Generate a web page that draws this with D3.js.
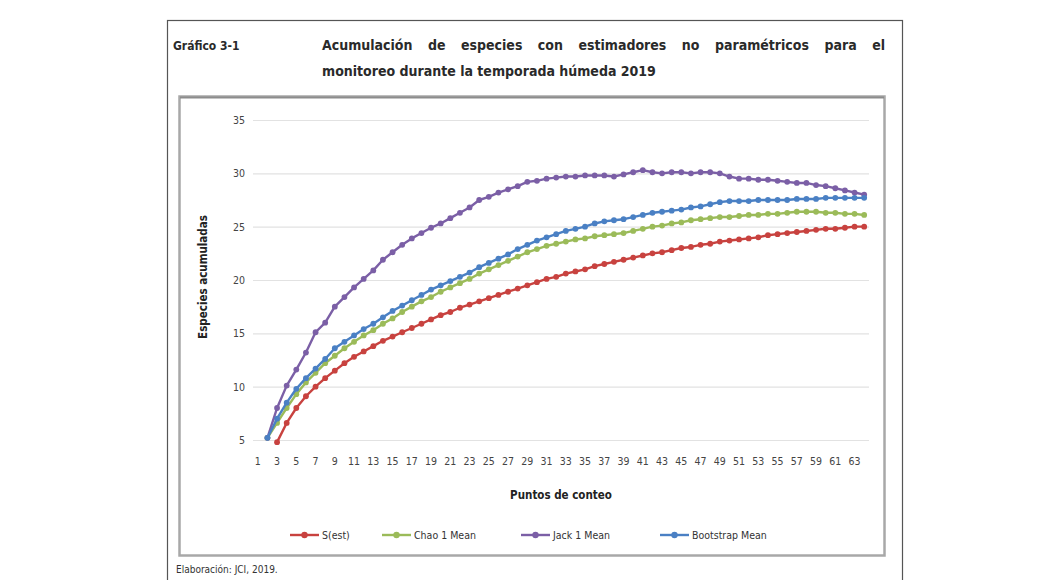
<!DOCTYPE html>
<html>
<head>
<meta charset="utf-8">
<script src="https://cdn.jsdelivr.net/npm/d3@7"></script>
<style>
  html, body { margin: 0; padding: 0; background: #fff; }
  svg { display: block; }
  .narrow { font-family: "Liberation Sans Narrow", "DejaVu Sans Condensed", "Arial Narrow", sans-serif; }
  .head { font-family: "DejaVu Sans Condensed", "Liberation Sans Narrow", sans-serif; }
</style>
</head>
<body>
<svg id="chart" width="1053" height="580"></svg>
<script>
// Sampling points (x categories) and estimator curves; null = no value at that point
const puntos = d3.range(1, 65);
const tickPuntos = d3.range(1, 65, 2);
const yTicks = [5, 10, 15, 20, 25, 30, 35];

const sEst = [null, null, 4.8, 6.6, 8.0, 9.1, 10.0, 10.8, 11.5, 12.2, 12.8, 13.3, 13.8, 14.3, 14.7, 15.1,
  15.5, 15.9, 16.3, 16.7, 17.0, 17.4, 17.7, 18.0, 18.3, 18.6, 18.9, 19.2, 19.5, 19.8, 20.1, 20.3,
  20.6, 20.8, 21.0, 21.3, 21.5, 21.7, 21.9, 22.1, 22.3, 22.5, 22.6, 22.8, 23.0, 23.1, 23.3, 23.4,
  23.6, 23.7, 23.8, 23.9, 24.0, 24.2, 24.3, 24.4, 24.5, 24.6, 24.7, 24.8, 24.8, 24.9, 25.0, 25.0];

const chao1 = [null, 5.2, 6.6, 8.0, 9.3, 10.4, 11.3, 12.2, 12.9, 13.6, 14.2, 14.8, 15.3, 15.9, 16.4, 17.0,
  17.5, 18.0, 18.4, 18.9, 19.3, 19.7, 20.1, 20.6, 21.0, 21.4, 21.8, 22.2, 22.6, 22.9, 23.2, 23.4,
  23.6, 23.8, 23.9, 24.1, 24.2, 24.3, 24.4, 24.6, 24.8, 25.0, 25.1, 25.3, 25.4, 25.6, 25.7, 25.8,
  25.9, 25.9, 26.0, 26.1, 26.1, 26.2, 26.2, 26.3, 26.4, 26.4, 26.4, 26.3, 26.3, 26.2, 26.2, 26.1];

const jack1 = [null, 5.2, 8.0, 10.1, 11.6, 13.2, 15.1, 16.0, 17.5, 18.4, 19.3, 20.1, 20.9, 21.9, 22.6, 23.3,
  23.9, 24.4, 24.9, 25.3, 25.8, 26.3, 26.8, 27.5, 27.8, 28.2, 28.5, 28.8, 29.2, 29.3, 29.5, 29.6,
  29.7, 29.7, 29.8, 29.8, 29.8, 29.7, 29.9, 30.1, 30.3, 30.1, 30.0, 30.1, 30.1, 30.0, 30.1, 30.1,
  30.0, 29.7, 29.5, 29.5, 29.4, 29.4, 29.3, 29.2, 29.1, 29.1, 28.9, 28.8, 28.6, 28.4, 28.2, 28.0];

const bootstrap = [null, 5.2, 7.0, 8.5, 9.8, 10.8, 11.7, 12.6, 13.6, 14.2, 14.8, 15.4, 15.9, 16.5, 17.1, 17.6,
  18.1, 18.6, 19.1, 19.5, 19.9, 20.3, 20.7, 21.2, 21.6, 22.0, 22.4, 22.9, 23.3, 23.7, 24.0, 24.3,
  24.6, 24.8, 25.0, 25.3, 25.5, 25.6, 25.7, 25.9, 26.1, 26.3, 26.4, 26.5, 26.6, 26.8, 26.9, 27.1,
  27.3, 27.4, 27.4, 27.4, 27.5, 27.5, 27.5, 27.5, 27.6, 27.6, 27.6, 27.7, 27.7, 27.7, 27.7, 27.7];

const seriesNames = ["S(est)", "Chao 1 Mean", "Jack 1 Mean", "Bootstrap Mean"];
const seriesColors = ["#c8423f", "#9bbb59", "#7b5fa6", "#4a80c4"];

const series = [sEst, chao1, jack1, bootstrap].map((vals, i) => ({
  name: seriesNames[i], color: seriesColors[i],
  points: puntos.map((p, j) => ({ p, v: vals[j] }))
}));

const svg = d3.select("#chart");

// Outer frame of the figure
svg.append("rect").attr("x", 167.5).attr("y", 20.5).attr("width", 735).attr("height", 580)
  .attr("fill", "none").attr("stroke", "#555").attr("stroke-width", 1.2);

// Heading
svg.append("text").attr("class", "head").attr("x", 173).attr("y", 50)
  .attr("font-size", 12).attr("font-weight", "bold").attr("fill", "#2a2a2a").text("Gráfico 3-1");

const headLines = [
  { text: "Acumulación de especies con estimadores no paramétricos para el", y: 50, justify: true },
  { text: "monitoreo durante la temporada húmeda 2019", y: 76, justify: false }
];
headLines.forEach(l => {
  const t = svg.append("text").attr("class", "head").attr("x", 322).attr("y", l.y)
    .attr("font-size", 14).attr("font-weight", "bold").attr("fill", "#2a2a2a").text(l.text);
  if (l.justify) {
    const w = t.node().getComputedTextLength();
    const gaps = l.text.split(" ").length - 1;
    t.attr("word-spacing", Math.max(0, ((885 - 322) - w) / gaps));
  }
});

// Inner chart box with a soft grey border
svg.append("rect").attr("x", 179.5).attr("y", 96.5).attr("width", 705).attr("height", 459)
  .attr("fill", "#fff").attr("stroke", "#a8a8a8").attr("stroke-width", 2.5);
svg.append("line").attr("x1", 180).attr("x2", 884).attr("y1", 97.5).attr("y2", 97.5)
  .attr("stroke", "#8c8c8c").attr("stroke-width", 2);

// Scales
const plotL = 253, plotR = 869, plotT = 120, plotB = 440;
const x = d3.scaleBand().domain(puntos).range([plotL, plotR]).paddingInner(0).paddingOuter(0);
const cx = p => x(p) + x.bandwidth() / 2;
const y = d3.scaleLinear().domain([5, 35]).range([plotB, plotT]);

// Horizontal gridlines + y tick labels
const yAxis = d3.axisLeft(y).tickValues(yTicks).tickSize(-(plotR - plotL)).tickPadding(8)
  .tickFormat(d3.format("d"));
const gy = svg.append("g").attr("class", "narrow").attr("transform", `translate(${plotL},0)`).call(yAxis);
gy.select(".domain").remove();
gy.selectAll(".tick line").attr("stroke", "#e2e2e2").attr("stroke-width", 1.2);
gy.selectAll(".tick text").attr("font-size", 10.5).attr("fill", "#444")
  .attr("font-family", "'Liberation Sans Narrow', 'DejaVu Sans Condensed', sans-serif");

// X tick labels (every second sampling point)
const xAxis = d3.axisBottom(x).tickValues(tickPuntos).tickSize(0).tickPadding(10);
const gx = svg.append("g").attr("transform", `translate(0,${plotB + 8})`).call(xAxis);
gx.select(".domain").remove();
gx.selectAll(".tick text").attr("font-size", 10.5).attr("fill", "#444")
  .attr("font-family", "'Liberation Sans Narrow', 'DejaVu Sans Condensed', sans-serif");

// Axis titles
svg.append("text").attr("class", "narrow").attr("transform", "translate(207,277) rotate(-90)")
  .attr("text-anchor", "middle").attr("font-size", 11.5).attr("font-weight", "bold").attr("fill", "#222")
  .text("Especies acumuladas");
svg.append("text").attr("class", "narrow").attr("x", 561).attr("y", 499)
  .attr("text-anchor", "middle").attr("font-size", 11.5).attr("font-weight", "bold").attr("fill", "#222")
  .text("Puntos de conteo");

// Series lines with circle markers
const line = d3.line().defined(d => d.v !== null).x(d => cx(d.p)).y(d => y(d.v));
const gs = svg.append("g");
series.forEach(s => {
  const g = gs.append("g");
  g.append("path").datum(s.points).attr("d", line).attr("fill", "none")
    .attr("stroke", s.color).attr("stroke-width", 2.4).attr("stroke-linejoin", "round");
  g.selectAll("circle").data(s.points.filter(d => d.v !== null)).join("circle")
    .attr("cx", d => cx(d.p)).attr("cy", d => y(d.v)).attr("r", 2.9).attr("fill", s.color);
});

// Legend
const legendX = [290, 382, 521, 660];
const lg = svg.append("g").attr("class", "narrow");
series.forEach((s, i) => {
  const g = lg.append("g").attr("transform", `translate(${legendX[i]},535)`);
  g.append("line").attr("x1", 0).attr("x2", 29).attr("stroke", s.color).attr("stroke-width", 2.4);
  g.append("circle").attr("cx", 14.5).attr("r", 3.2).attr("fill", s.color);
  g.append("text").attr("x", 32).attr("y", 4).attr("font-size", 10.5).attr("fill", "#333").text(s.name);
});

// Source note
svg.append("text").attr("class", "narrow").attr("x", 176).attr("y", 573)
  .attr("font-size", 10).attr("fill", "#333").text("Elaboración: JCI, 2019.");
</script>
</body>
</html>
